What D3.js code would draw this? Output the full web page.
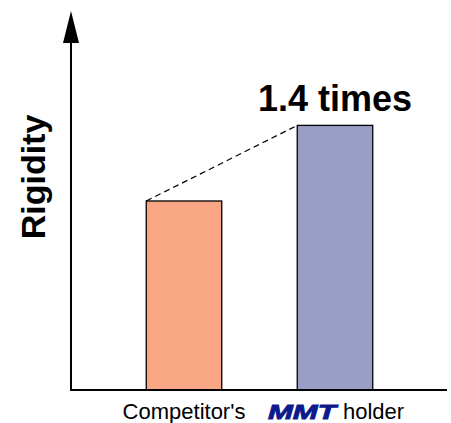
<!DOCTYPE html>
<html><head><meta charset="utf-8">
<script src="https://cdn.jsdelivr.net/npm/d3@7"></script>
<style>body{margin:0;background:#fff}svg{display:block}</style>
</head><body>
<script>
const categories = ["Competitor's", "MMT holder"];
const values = [1.0, 1.4];
const colors = ["#F9A685", "#9A9EC4"];
const annotation = "1.4 times";
const yLabel = "Rigidity";

const W = 451, H = 423;
const svg = d3.select("body").append("svg").attr("width", W).attr("height", H);
const font = "Arial, 'Liberation Sans', Helvetica, sans-serif";

const x = d3.scaleBand().domain(categories).range([108.5, 410.5]).paddingInner(0.5).paddingOuter(0.25);
const y = d3.scaleLinear().domain([0, 2]).range([390, 12]);

// bars
svg.selectAll("rect.bar").data(values).join("rect")
  .attr("x", (d, i) => x(categories[i]))
  .attr("y", d => y(d))
  .attr("width", x.bandwidth())
  .attr("height", d => y(0) - y(d))
  .attr("fill", (d, i) => colors[i])
  .attr("stroke", "#000").attr("stroke-width", 1.3);

// dashed line connecting top-left corners
svg.append("line")
  .attr("x1", x(categories[0])).attr("y1", y(values[0]))
  .attr("x2", x(categories[1])).attr("y2", y(values[1]))
  .attr("stroke", "#000").attr("stroke-width", 1.2).attr("stroke-dasharray", "6,4");

// axes
const ax = 71;
svg.append("line").attr("x1", ax).attr("y1", 40).attr("x2", ax).attr("y2", y(0) + 1)
  .attr("stroke", "#000").attr("stroke-width", 2);
svg.append("path").attr("d", `M${ax},11 L${ax - 8},43 L${ax + 8},43 Z`).attr("fill", "#000");
svg.append("line").attr("x1", ax - 1).attr("y1", y(0)).attr("x2", 447).attr("y2", y(0))
  .attr("stroke", "#000").attr("stroke-width", 2);

// annotation
svg.append("text").attr("x", x(categories[1]) + x.bandwidth() / 2).attr("y", 111)
  .attr("text-anchor", "middle").attr("font-family", font).attr("font-weight", "bold")
  .attr("font-size", 36).text(annotation);

// y label
svg.append("text").attr("transform", "translate(45,177) rotate(-90)")
  .attr("text-anchor", "middle").attr("font-family", font).attr("font-weight", "bold")
  .attr("font-size", 34).text(yLabel);

// category labels
svg.append("text").attr("x", x(categories[0]) + x.bandwidth() / 2).attr("y", 419)
  .attr("text-anchor", "middle").attr("font-family", font).attr("font-size", 22).text(categories[0]);
const c1 = x(categories[1]) + x.bandwidth() / 2;
const parts = categories[1].split(" ");
svg.append("text").attr("x", c1 - 67).attr("y", 419)
  .attr("font-family", font).attr("font-weight", "bold").attr("font-style", "italic")
  .attr("font-size", 21).attr("fill", "#0d1a8c").attr("stroke", "#0d1a8c").attr("stroke-width", 0.9)
  .attr("textLength", 68).attr("lengthAdjust", "spacingAndGlyphs").text(parts[0]);
svg.append("text").attr("x", c1 + 8).attr("y", 419)
  .attr("font-family", font).attr("font-size", 22).attr("fill", "#000").text(parts.slice(1).join(" "));
</script>
</body></html>
